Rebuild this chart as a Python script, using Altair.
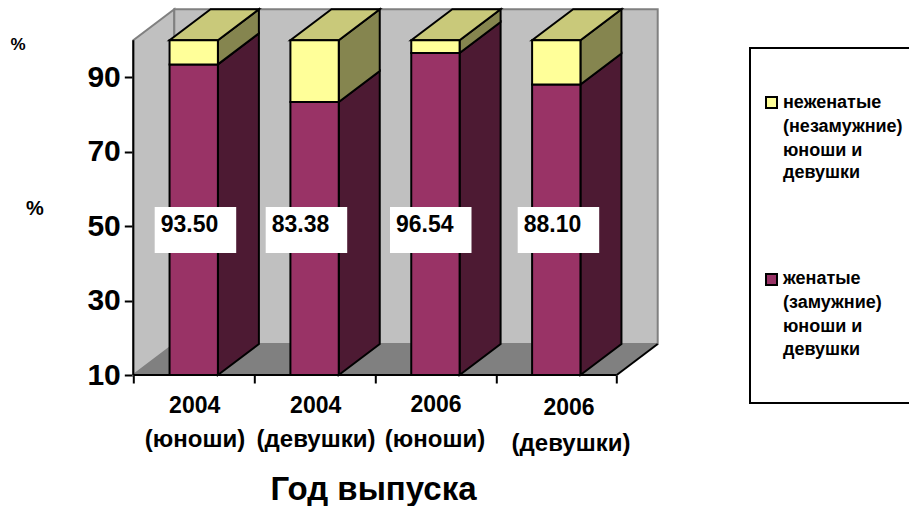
import altair as alt
import pandas as pd

# Survey shares by graduation year and group
years = ["2004", "2004", "2006", "2006"]
groups = ["(юноши)", "(девушки)", "(юноши)", "(девушки)"]
married = [93.50, 83.38, 96.54, 88.10]
value_labels = ["93.50", "83.38", "96.54", "88.10"]
y_ticks = [10, 30, 50, 70, 90]
legend_unmarried = ["неженатые", "(незамужние)", "юноши и", "девушки"]
legend_married = ["женатые", "(замужние)", "юноши и", "девушки"]

# Plot frame in pixels and the fake 3D depth of the box
LEFT, TOP, W, H = 133.3, 9, 525, 366
STEP, PCT = 120.85, 3.72
DX, DY = 41 / STEP, 31 / PCT
FLOOR, CEIL = 10, 100
BAR_START, BAR_END = 0.3, 0.7
STROKE = 2
n = len(married)


def ux(px):
    """Page pixel to category units."""
    return (px - LEFT) / STEP


def uy(py):
    """Page pixel to percent units."""
    return FLOOR + (TOP + H - py) / PCT


x_scale = alt.Scale(domain=[0, W / STEP], nice=False, zero=False)
y_scale = alt.Scale(domain=[FLOOR, FLOOR + H / PCT], nice=False, zero=False)

# Every layer carries the same axis definitions so they merge cleanly
x_axis = alt.Axis(
    values=list(range(n + 1)), labels=False, title=None, domain=False, grid=False,
    tickColor="black", tickWidth=2, tickSize=8,
)
y_axis = alt.Axis(
    values=y_ticks, title=None, domain=False, grid=False,
    tickColor="black", tickWidth=2, tickSize=9, labelPadding=4,
    labelFont="Liberation Sans", labelFontSize=30, labelFontWeight="bold",
    labelColor="black",
)
X = alt.X("x:Q", scale=x_scale, axis=x_axis)
Y = alt.Y("y:Q", scale=y_scale, axis=y_axis)
X2 = alt.X2("x2")
Y2 = alt.Y2("y2")
bars = [(i + BAR_START, i + BAR_END, married[i]) for i in range(n)]


def vertical_area(rows, **style):
    df = pd.DataFrame(rows, columns=["face", "x", "y", "y2"])
    return alt.Chart(df).mark_area(orient="vertical", **style).encode(
        x=X, y=Y, y2=Y2, detail="face:N"
    )


def horizontal_area(rows, **style):
    df = pd.DataFrame(rows, columns=["face", "y", "x", "x2"])
    return alt.Chart(df).mark_area(orient="horizontal", **style).encode(
        y=Y, x=X, x2=X2, detail="face:N"
    )


def boxes(rows, **style):
    df = pd.DataFrame(rows, columns=["x", "x2", "y", "y2"])
    return alt.Chart(df).mark_rect(**style).encode(x=X, x2=X2, y=Y, y2=Y2)


def segment(points, color, width):
    df = pd.DataFrame(points, columns=["x", "y"])
    return alt.Chart(df).mark_line(color=color, strokeWidth=width).encode(x=X, y=Y)


def labels(rows, size, weight="bold", font="Liberation Sans", align="center"):
    df = pd.DataFrame(rows, columns=["x", "y", "t"])
    return alt.Chart(df).mark_text(
        font=font, fontSize=size, fontWeight=weight, align=align,
        baseline="middle", color="black",
    ).encode(x=X, y=Y, text="t:N")


# Walls and floor of the 3D box
left_wall = vertical_area(
    [("w", 0, FLOOR, CEIL), ("w", DX, FLOOR + DY, CEIL + DY)],
    color="#c0c0c0", stroke="#808080", strokeWidth=STROKE,
)
back_wall = boxes(
    [(DX, n + DX, FLOOR + DY, CEIL + DY)],
    color="#c0c0c0", stroke="#808080", strokeWidth=STROKE,
)
floor = horizontal_area(
    [("f", FLOOR, 0, n), ("f", FLOOR + DY, DX, n + DX)],
    color="#808080",
)

# Bar faces: sides first, then tops, fronts last
side_married = vertical_area(
    [r for i, (a, b, v) in enumerate(bars)
     for r in [(i, b, FLOOR, v), (i, b + DX, FLOOR + DY, v + DY)]],
    color="#4d1a33", stroke="black", strokeWidth=STROKE,
)
side_unmarried = vertical_area(
    [r for i, (a, b, v) in enumerate(bars)
     for r in [(i, b, v, CEIL), (i, b + DX, v + DY, CEIL + DY)]],
    color="#85854f", stroke="black", strokeWidth=STROKE,
)
top_unmarried = horizontal_area(
    [r for i, (a, b, v) in enumerate(bars)
     for r in [(i, CEIL, a, b), (i, CEIL + DY, a + DX, b + DX)]],
    color="#c9c97a", stroke="black", strokeWidth=STROKE,
)
front_married = boxes(
    [(a, b, FLOOR, v) for a, b, v in bars],
    color="#993366", stroke="black", strokeWidth=STROKE,
)
front_unmarried = boxes(
    [(a, b, v, CEIL) for a, b, v in bars],
    color="#ffff99", stroke="black", strokeWidth=STROKE,
)

# Axis lines and the front edge of the floor
axis_y = segment([(0, FLOOR), (0, CEIL)], "black", STROKE)
axis_x = segment([(0, FLOOR), (n, FLOOR)], "black", STROKE)
floor_edge = segment([(n, FLOOR), (n + DX, FLOOR + DY)], "black", STROKE)

# White value boxes with their numbers
box_lefts = [154.7, 265.7, 390, 517.7]
value_boxes = boxes(
    [(ux(p), ux(p + 81.5), uy(253), uy(207)) for p in box_lefts],
    color="white",
)
value_text = labels(
    [(ux(p + 6), uy(225), t) for p, t in zip(box_lefts, value_labels)],
    23, align="left",
)

# Category captions under the axis
year_x = [194.7, 315.7, 436, 569]
group_x = [195, 316, 435, 571]
year_y = [406, 406, 405, 408]
group_y = [440, 440, 440, 444]
year_text = labels([(ux(a), uy(b), t) for a, b, t in zip(year_x, year_y, years)], 23)
group_text = labels([(ux(a), uy(b), t) for a, b, t in zip(group_x, group_y, groups)], 24)
axis_title = labels([(ux(373.5), uy(490), "Год выпуска")], 33)
percent_small = labels([(ux(18), uy(45), "%")], 17)
percent_large = labels([(ux(35), uy(209), "%")], 20)

# Hand-built legend panel
legend_frame = boxes(
    [(ux(750), ux(930), uy(403), uy(48))],
    color="white", stroke="black", strokeWidth=STROKE,
)
swatch_unmarried = boxes(
    [(ux(766), ux(777), uy(108), uy(97))],
    color="#ffff99", stroke="black", strokeWidth=STROKE,
)
swatch_married = boxes(
    [(ux(766), ux(777), uy(285), uy(274))],
    color="#993366", stroke="black", strokeWidth=STROKE,
)
unmarried_rows = [103, 127, 151, 173]
married_rows = [279, 303, 327, 350]
legend_text = labels(
    [(ux(783), uy(p), t) for p, t in zip(unmarried_rows, legend_unmarried)]
    + [(ux(783), uy(p), t) for p, t in zip(married_rows, legend_married)],
    18, align="left",
)

chart = alt.layer(
    left_wall, back_wall, floor,
    side_married, side_unmarried, top_unmarried, front_married, front_unmarried,
    axis_y, axis_x, floor_edge,
    value_boxes, value_text, year_text, group_text, axis_title,
    percent_small, percent_large,
    legend_frame, swatch_unmarried, swatch_married, legend_text,
).properties(
    width=W,
    height=H,
    background="white",
    padding={"left": LEFT, "top": TOP, "right": 909 - LEFT - W, "bottom": 506 - TOP - H},
    autosize=alt.AutoSizeParams(type="none"),
).configure_view(stroke=None)

chart.save("out.html", embed_options={"renderer": "svg", "actions": False})
